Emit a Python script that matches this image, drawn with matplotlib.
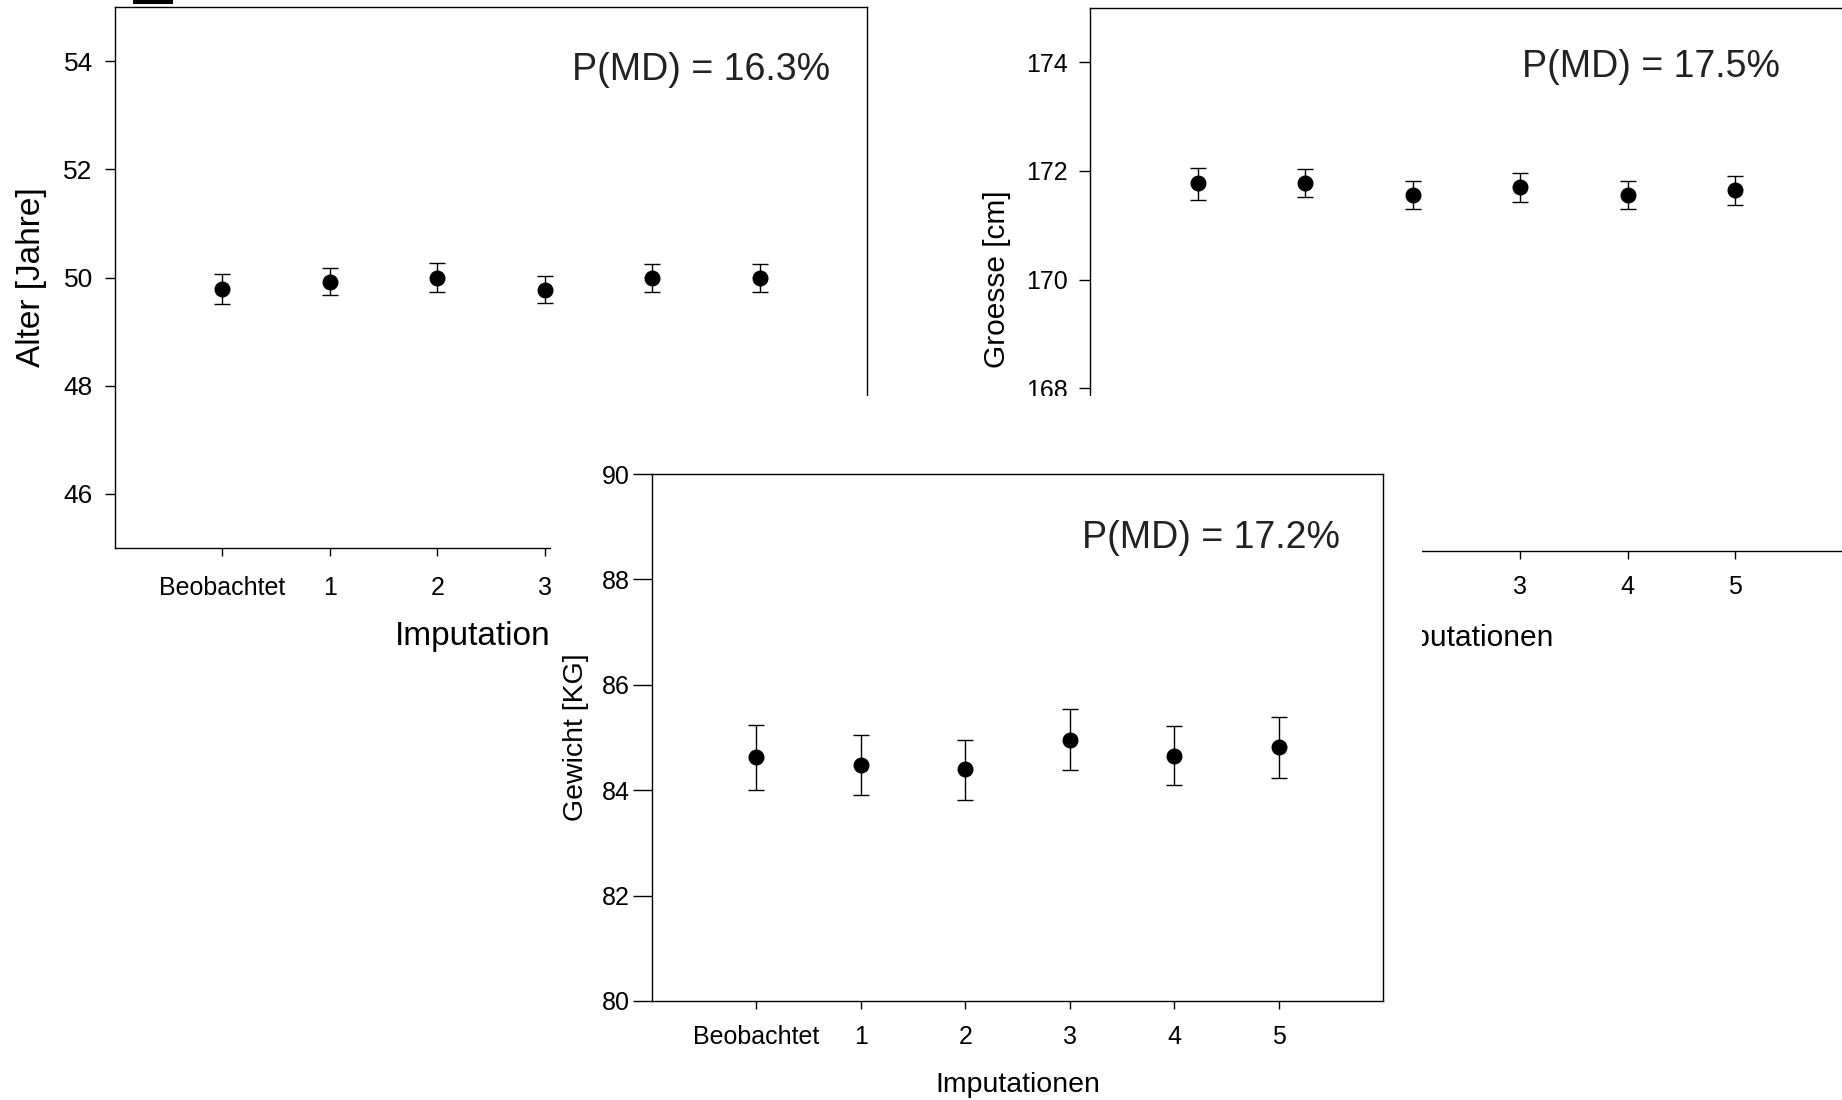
import matplotlib.pyplot as plt
from matplotlib.patches import Rectangle

plt.rcParams['font.family'] = ['Liberation Sans', 'DejaVu Sans']

imputation_labels = ['Beobachtet', '1', '2', '3', '4', '5']
x_pos = list(range(len(imputation_labels)))

# Alter [Jahre]
alter_mean = [49.79, 49.92, 50.00, 49.77, 49.99, 49.99]
alter_low = [49.51, 49.68, 49.74, 49.52, 49.74, 49.74]
alter_high = [50.07, 50.18, 50.26, 50.03, 50.25, 50.25]

# Groesse [cm]
groesse_mean = [171.77, 171.78, 171.55, 171.70, 171.55, 171.64]
groesse_low = [171.47, 171.52, 171.29, 171.43, 171.29, 171.37]
groesse_high = [172.06, 172.04, 171.82, 171.97, 171.82, 171.90]

# Gewicht [KG]
gewicht_mean = [84.63, 84.47, 84.40, 84.96, 84.64, 84.82]
gewicht_low = [84.01, 83.90, 83.82, 84.39, 84.09, 84.24]
gewicht_high = [85.24, 85.05, 84.96, 85.54, 85.21, 85.38]

pmd_labels = ['P(MD) = 16.3%', 'P(MD) = 17.5%', 'P(MD) = 17.2%']

W, H = 1842, 1100


def px_rect(left, top, right, bottom):
    # pixel box -> figure fraction [l, b, w, h]
    return [left / W, (H - bottom) / H, (right - left) / W, (bottom - top) / H]


def draw_panel(ax, mean, low, high, ylim, yticks, ylabel, pmd, pmd_xy,
               label_size, ylabel_x, xlabel_y, ytick_len, ytick_pad, xtick_pad,
               ytick_size=18, xtick_size=18):
    yerr = [[m - lo for m, lo in zip(mean, low)], [hi - m for m, hi in zip(mean, high)]]
    ax.errorbar(x_pos, mean, yerr=yerr, fmt='o', color='black', markersize=10.5,
                capsize=6, elinewidth=1.0, capthick=1.0)
    ax.set_xlim(-1, 6)
    ax.set_xticks(x_pos)
    ax.set_xticklabels(imputation_labels)
    ax.set_ylim(*ylim)
    ax.set_yticks(yticks)
    ax.tick_params(axis='y', direction='out', length=ytick_len, width=1.0,
                   pad=ytick_pad, labelsize=ytick_size)
    ax.tick_params(axis='x', direction='out', length=6, width=1.0,
                   pad=xtick_pad, labelsize=xtick_size)
    for sp in ax.spines.values():
        sp.set_linewidth(1.0)

    ax.set_ylabel(ylabel, fontsize=label_size, va='center')
    ax.yaxis.set_label_coords(ylabel_x, 0.5)
    ax.set_xlabel('Imputationen', fontsize=label_size, va='center')
    ax.xaxis.set_label_coords(0.5, xlabel_y)

    ax.text(pmd_xy[0], pmd_xy[1], pmd, ha='right', va='baseline',
            fontsize=27, color='#222222')


fig = plt.figure(figsize=(W / 100, H / 100), dpi=100)

ax_a = fig.add_axes(px_rect(115, 7, 867, 548))
draw_panel(ax_a, alter_mean, alter_low, alter_high, (45, 55), [46, 48, 50, 52, 54],
           'Alter [Jahre]', pmd_labels[0], (5.66, 53.65),
           label_size=24, ylabel_x=-0.111, xlabel_y=-0.163,
           ytick_len=7, ytick_pad=9, xtick_pad=14, ytick_size=19)

ax_b = fig.add_axes(px_rect(1090, 8, 1843, 551))
draw_panel(ax_b, groesse_mean, groesse_low, groesse_high, (165, 175), [166, 168, 170, 172, 174],
           'Groesse [cm]', pmd_labels[1], (5.41, 173.73),
           label_size=21.5, ylabel_x=-0.124, xlabel_y=-0.160,
           ytick_len=8, ytick_pad=8, xtick_pad=11)

# white sheet of the lower panel, laid over the two upper ones
fig.patches.append(Rectangle((551 / W, 0), (1422 - 551) / W, (H - 396) / H,
                             transform=fig.transFigure, facecolor='white',
                             edgecolor='none', zorder=1))

ax_c = fig.add_axes(px_rect(652, 474, 1383, 1001))
draw_panel(ax_c, gewicht_mean, gewicht_low, gewicht_high, (80, 90), [80, 82, 84, 86, 88, 90],
           'Gewicht [KG]', pmd_labels[2], (5.59, 88.59),
           label_size=20.5, ylabel_x=-0.104, xlabel_y=-0.160,
           ytick_len=14, ytick_pad=2, xtick_pad=11)

ax_a.set_zorder(0)
ax_b.set_zorder(0)
ax_c.set_zorder(2)

# cut-off mark at the top left corner
fig.patches.append(Rectangle((133 / W, (H - 3.5) / H), 40 / W, 3.5 / H,
                             transform=fig.transFigure, facecolor='black',
                             edgecolor='none', zorder=3))

fig.savefig('out.png', dpi=100)
